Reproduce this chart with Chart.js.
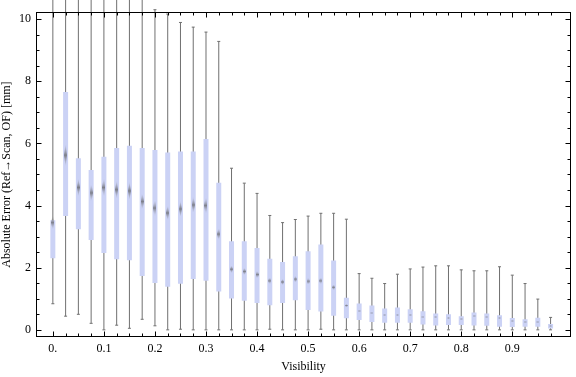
<!DOCTYPE html>
<html lang="en">
<head>
<meta charset="UTF-8">
<title>Absolute error vs visibility</title>
<script src="https://cdn.jsdelivr.net/npm/chart.js@4"></script>
<style>
  html, body { margin: 0; padding: 0; background: #fff; }
  #wrap { width: 576px; height: 377px; }
</style>
</head>
<body>
<div id="wrap"><canvas id="chart"></canvas></div>
<script>
// box-whisker values, one entry per visibility bin
const visibility = [0, 0.025, 0.05, 0.075, 0.1, 0.125, 0.15, 0.175, 0.2, 0.225,
  0.25, 0.275, 0.3, 0.325, 0.35, 0.375, 0.4, 0.425, 0.45, 0.475,
  0.5, 0.525, 0.55, 0.575, 0.6, 0.625, 0.65, 0.675, 0.7, 0.725,
  0.75, 0.775, 0.8, 0.825, 0.85, 0.875, 0.9, 0.925, 0.95, 0.975];
const whiskerLow = [0.84, 0.44, 0.50, 0.21, 0.00, 0.15, 0.05, 0.34, 0.13, 0.00,
  0.02, 0.00, 0.00, 0.00, 0.00, 0.00, 0.00, 0.02, 0.00, 0.00,
  0.00, 0.02, 0.00, 0.00, 0.00, 0.00, 0.00, 0.00, 0.00, 0.00,
  0.00, 0.00, 0.00, 0.00, 0.00, 0.00, 0.00, 0.00, 0.00, 0.00];
const quartile1 = [2.30, 3.66, 3.24, 2.89, 2.47, 2.27, 2.24, 1.73, 1.51, 1.39,
  1.48, 1.64, 1.58, 1.23, 1.01, 0.94, 0.86, 0.79, 0.86, 0.95,
  0.64, 0.59, 0.45, 0.37, 0.32, 0.25, 0.23, 0.23, 0.23, 0.17,
  0.14, 0.16, 0.16, 0.14, 0.13, 0.10, 0.09, 0.10, 0.10, 0.04];
const median = [3.45, 5.62, 4.58, 4.41, 4.58, 4.51, 4.47, 4.13, 3.92, 3.76,
  3.89, 4.02, 4.00, 3.08, 1.95, 1.88, 1.78, 1.58, 1.54, 1.63,
  1.56, 1.58, 1.37, 0.78, 0.61, 0.54, 0.47, 0.48, 0.48, 0.40,
  0.40, 0.38, 0.34, 0.43, 0.40, 0.37, 0.27, 0.24, 0.24, 0.12];
const quartile3 = [3.53, 7.65, 5.52, 5.14, 5.57, 5.85, 5.92, 5.85, 5.79, 5.71,
  5.74, 5.74, 6.14, 4.73, 2.85, 2.85, 2.63, 2.29, 2.18, 2.37,
  2.53, 2.75, 2.23, 1.03, 0.85, 0.78, 0.69, 0.72, 0.66, 0.60,
  0.53, 0.50, 0.44, 0.56, 0.53, 0.47, 0.38, 0.34, 0.39, 0.19];
const whiskerHigh = [11, 11, 11, 11, 11, 11, 11, 11, 10.3, 10.16,
  9.89, 9.74, 9.58, 9.28, 5.20, 4.72, 4.39, 3.68, 3.45, 3.55,
  3.66, 3.75, 3.75, 3.56, 1.81, 1.66, 1.49, 1.79, 1.96, 2.02,
  2.06, 2.06, 1.93, 1.90, 1.90, 2.03, 1.76, 1.49, 0.99, 0.40];
const xTicks = [0, 0.1, 0.2, 0.3, 0.4, 0.5, 0.6, 0.7, 0.8, 0.9];
const yTicks = [0, 2, 4, 6, 8, 10];

const FONT = "'Liberation Serif', 'Times New Roman', serif";
const WHISKER = '#707070';
const BOX = '#cbd2f5';

// elongated grey diamond for the median, height follows the y scale
function medianMark(c) {
  const y = c.chart.scales.y;
  const m = median[c.dataIndex];
  let h = 2;
  if (y && m !== undefined) {
    const d = y.getPixelForValue(m * 0.94) - y.getPixelForValue(m * 1.06);
    if (isFinite(d)) h = Math.max(2, Math.round(d));
  }
  const w = 3;
  const cv = document.createElement('canvas');
  cv.width = w; cv.height = h;
  const g = cv.getContext('2d');
  const grad = g.createLinearGradient(0, 0, 0, h);
  grad.addColorStop(0, 'rgba(120,120,120,0.1)');
  grad.addColorStop(0.5, 'rgba(90,90,90,0.7)');
  grad.addColorStop(1, 'rgba(120,120,120,0.1)');
  g.fillStyle = grad;
  g.beginPath();
  g.moveTo(w / 2, 0);
  g.lineTo(w, h / 2);
  g.lineTo(w / 2, h);
  g.lineTo(0, h / 2);
  g.closePath();
  g.fill();
  return cv;
}

// Mathematica style frame with inward ticks on all four sides
const frameTicks = {
  id: 'frameTicks',
  afterDatasetsDraw(chart) {
    const { ctx, chartArea: a, scales: { x, y } } = chart;
    const L = Math.round(a.left) + 0.5, R = Math.round(a.right) - 0.5;
    const T = Math.round(a.top) + 0.5, B = Math.round(a.bottom) - 0.5;
    ctx.save();
    ctx.strokeStyle = '#000';
    ctx.lineWidth = 1;
    ctx.strokeRect(L, T, R - L, B - T);
    ctx.beginPath();
    for (let i = 0; i <= 39; i++) {
      const v = i * 0.025;
      const len = i % 4 === 0 ? 5 : 3;
      const px = Math.round(x.getPixelForValue(v)) + 0.5;
      ctx.moveTo(px, B); ctx.lineTo(px, B - len);
      ctx.moveTo(px, T); ctx.lineTo(px, T + len);
    }
    for (let i = 0; i <= 20; i++) {
      const v = i * 0.5;
      const len = i % 4 === 0 ? 5 : 3;
      const py = Math.round(y.getPixelForValue(v)) + 0.5;
      ctx.moveTo(L, py); ctx.lineTo(L + len, py);
      ctx.moveTo(R, py); ctx.lineTo(R - len, py);
    }
    ctx.stroke();
    ctx.restore();
  }
};

const pts = arr => visibility.map((v, i) => ({ x: v, y: arr[i] }));

new Chart(document.getElementById('chart'), {
  type: 'bar',
  data: {
    datasets: [
      {
        label: 'whisker',
        data: visibility.map((v, i) => ({ x: v, y: [whiskerLow[i], whiskerHigh[i]] })),
        backgroundColor: WHISKER,
        barThickness: 1,
        inflateAmount: 0,
        grouped: false,
        clip: false,
        order: 3
      },
      {
        label: 'box',
        data: visibility.map((v, i) => ({ x: v, y: [quartile1[i], quartile3[i]] })),
        backgroundColor: BOX,
        barThickness: 5,
        inflateAmount: 0,
        grouped: false,
        order: 2
      },
      {
        type: 'scatter',
        label: 'caps',
        data: pts(whiskerLow).concat(pts(whiskerHigh)),
        pointStyle: 'line',
        radius: 1.5,
        borderColor: WHISKER,
        borderWidth: 1,
        clip: false,
        order: 1
      },
      {
        type: 'scatter',
        label: 'median',
        data: pts(median),
        pointStyle: medianMark,
        radius: 3,
        order: 0
      }
    ]
  },
  options: {
    responsive: true,
    maintainAspectRatio: false,
    animation: false,
    events: [],
    layout: { padding: { top: 4, right: 1, left: 0, bottom: 0 } },
    plugins: { legend: { display: false }, tooltip: { enabled: false } },
    scales: {
      x: {
        type: 'linear',
        offset: false,
        min: -0.033,
        max: 1.015,
        grid: { display: false, drawTicks: false, offset: false },
        border: { display: false },
        afterBuildTicks: s => { s.ticks = xTicks.map(v => ({ value: v })); },
        afterFit: s => { s.height = 40; },
        ticks: {
          font: { family: FONT, size: 12 },
          color: '#000',
          padding: 5,
          maxRotation: 0,
          autoSkip: false,
          callback: v => v === 0 ? '0.' : String(v)
        },
        title: {
          display: true,
          text: 'Visibility',
          font: { family: FONT, size: 12 },
          color: '#000',
          padding: { top: 0, bottom: 3 }
        }
      },
      y: {
        min: -0.23,
        max: 10.22,
        grid: { display: false, drawTicks: false },
        border: { display: false },
        afterBuildTicks: s => { s.ticks = yTicks.map(v => ({ value: v })); },
        afterFit: s => { s.width = 36; },
        ticks: {
          font: { family: FONT, size: 12 },
          color: '#000',
          padding: 5,
          autoSkip: false
        },
        title: {
          display: true,
          text: 'Absolute Error (Ref→Scan, OF) [mm]',
          font: { family: FONT, size: 12 },
          color: '#000',
          padding: { top: 0, bottom: 0 }
        }
      }
    }
  },
  plugins: [frameTicks]
});
</script>
</body>
</html>
